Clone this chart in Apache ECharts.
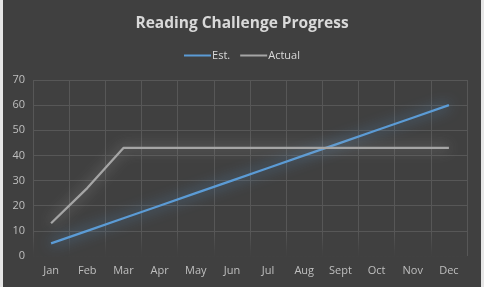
<!DOCTYPE html>
<html>
<head>
<meta charset="utf-8">
<script src="https://cdn.jsdelivr.net/npm/echarts@6/dist/echarts.min.js"></script>
<style>
  html, body { margin: 0; padding: 0; background: #e6e6e6; }
  #chart { position: absolute; left: 3px; top: 0; width: 478px; height: 287px; background: #404040; }
</style>
</head>
<body>
<div id="chart"></div>
<script>
// Monthly reading totals
const months = ['Jan', 'Feb', 'Mar', 'Apr', 'May', 'Jun', 'Jul', 'Aug', 'Sept', 'Oct', 'Nov', 'Dec'];
const estimated = [5, 10, 15, 20, 25, 30, 35, 40, 45, 50, 55, 60];
const actual = [13, 27, 43, 43, 43, 43, 43, 43, 43, 43, 43, 43];
const yTicks = { min: 0, max: 70, interval: 10 };

const chart = echarts.init(document.getElementById('chart'));
const font = '"Open Sans", "Noto Sans", sans-serif';
const gridBox = { left: 30, right: 14, top: 80, bottom: 31 };

chart.setOption({
  backgroundColor: '#404040',
  animation: false,
  title: {
    text: 'Reading Challenge Progress',
    left: 'center',
    top: 11,
    textStyle: { color: '#D9D9D9', fontSize: 15.5, fontWeight: 'bold', fontFamily: font }
  },
  legend: {
    top: 45,
    left: 'center',
    itemWidth: 27,
    itemHeight: 2,
    itemGap: 10,
    icon: 'rect',
    textStyle: { color: '#D9D9D9', fontSize: 11, fontFamily: font, padding: [0, 0, 0, -4] },
    data: ['Est.', 'Actual']
  },
  grid: gridBox,
  // soft fade of the gridlines toward the bottom of the plot
  graphic: [{
    type: 'rect',
    z: 1,
    silent: true,
    shape: { x: gridBox.left, y: 232, width: 478 - gridBox.left - gridBox.right, height: 27 },
    style: {
      fill: new echarts.graphic.LinearGradient(0, 0, 0, 1, [
        { offset: 0, color: 'rgba(64,64,64,0)' },
        { offset: 0.75, color: 'rgba(64,64,64,0.9)' },
        { offset: 1, color: 'rgba(64,64,64,1)' }
      ])
    }
  }],
  xAxis: {
    type: 'category',
    data: months,
    boundaryGap: true,
    axisLine: { show: false },
    axisTick: { show: false },
    axisLabel: { color: '#BFBFBF', fontSize: 11, fontFamily: font, margin: 9 },
    splitLine: { show: true, lineStyle: { color: '#575757', width: 1 } }
  },
  yAxis: {
    type: 'value',
    min: yTicks.min,
    max: yTicks.max,
    interval: yTicks.interval,
    axisLine: { show: false },
    axisTick: { show: false },
    axisLabel: { color: '#BFBFBF', fontSize: 11, fontFamily: font, margin: 8 },
    splitLine: { lineStyle: { color: '#575757', width: 1 } }
  },
  series: [
    {
      name: 'Est.',
      type: 'line',
      z: 3,
      data: estimated,
      symbol: 'none',
      color: '#5B9BD5',
      lineStyle: { color: '#5B9BD5', width: 2.25, shadowColor: 'rgba(91,155,213,0.95)', shadowBlur: 14 }
    },
    {
      name: 'Actual',
      type: 'line',
      z: 3,
      data: actual,
      symbol: 'none',
      color: '#A5A5A5',
      lineStyle: { color: '#A5A5A5', width: 2.25, shadowColor: 'rgba(175,175,175,0.8)', shadowBlur: 14 }
    }
  ]
});
</script>
</body>
</html>
